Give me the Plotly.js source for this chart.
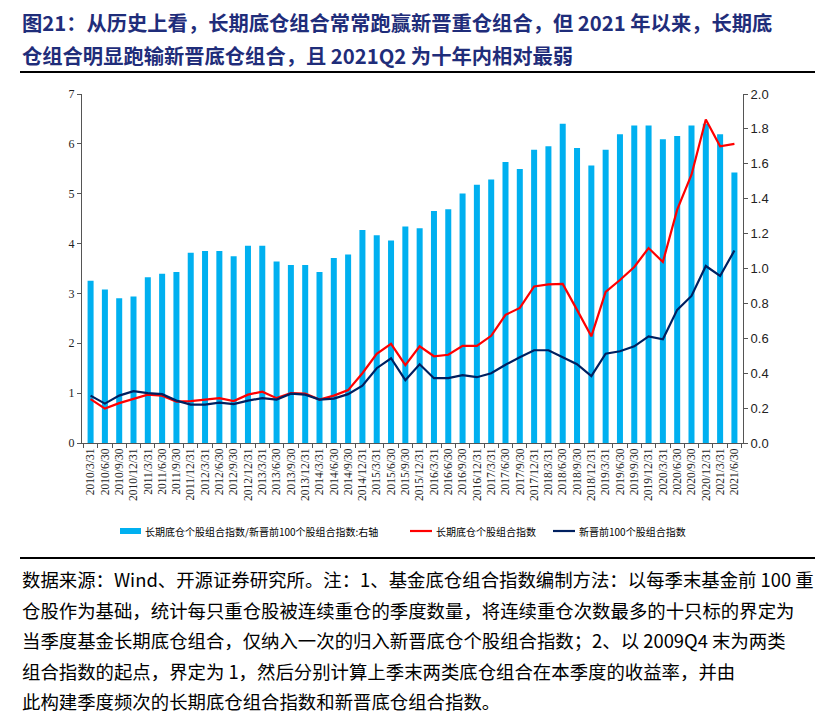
<!DOCTYPE html>
<html>
<head>
<meta charset="utf-8">
<script src="https://cdn.plot.ly/plotly-3.0.1.min.js"></script>
<style>
html,body{margin:0;padding:0;background:#fff;}
#chart{width:835px;height:724px;}
</style>
</head>
<body>
<div id="chart"></div>
<script>
// ---- data ----
const quarters = [
"2010/3/31","2010/6/30","2010/9/30","2010/12/31",
"2011/3/31","2011/6/30","2011/9/30","2011/12/31",
"2012/3/31","2012/6/30","2012/9/30","2012/12/31",
"2013/3/31","2013/6/30","2013/9/30","2013/12/31",
"2014/3/31","2014/6/30","2014/9/30","2014/12/31",
"2015/3/31","2015/6/30","2015/9/30","2015/12/31",
"2016/3/31","2016/6/30","2016/9/30","2016/12/31",
"2017/3/31","2017/6/30","2017/9/30","2017/12/31",
"2018/3/31","2018/6/30","2018/9/30","2018/12/31",
"2019/3/31","2019/6/30","2019/9/30","2019/12/31",
"2020/3/31","2020/6/30","2020/9/30","2020/12/31",
"2021/3/31","2021/6/30"];

// 长期底仓个股组合指数/新晋前100个股组合指数 (右轴)
const ratioValues = [
0.93,0.88,0.83,0.84,0.95,0.97,0.98,1.09,
1.10,1.10,1.07,1.13,1.13,1.04,1.02,1.02,
0.98,1.06,1.08,1.22,1.19,1.16,1.24,1.23,
1.33,1.34,1.43,1.48,1.51,1.61,1.57,1.68,
1.70,1.83,1.69,1.59,1.68,1.77,1.82,1.82,
1.74,1.76,1.82,1.83,1.77,1.55];

// 长期底仓个股组合指数 (左轴)
const longTermIndex = [
0.88,0.69,0.80,0.89,0.97,0.95,0.83,0.84,
0.87,0.90,0.84,0.97,1.03,0.90,1.00,0.99,
0.87,0.95,1.06,1.40,1.79,1.99,1.56,1.94,
1.74,1.77,1.95,1.95,2.15,2.57,2.71,3.14,
3.18,3.19,2.67,2.14,3.03,3.27,3.53,3.91,
3.63,4.68,5.38,6.49,5.95,6.00];

// 新晋前100个股组合指数 (左轴)
const newTop100Index = [
0.95,0.79,0.95,1.04,1.00,0.98,0.85,0.77,
0.77,0.81,0.78,0.85,0.90,0.87,0.99,0.97,
0.87,0.89,0.98,1.15,1.50,1.70,1.26,1.58,
1.30,1.30,1.36,1.32,1.40,1.57,1.72,1.86,
1.86,1.72,1.58,1.34,1.79,1.84,1.94,2.14,
2.08,2.67,2.95,3.55,3.35,3.86];

const seriesNames = [
"长期底仓个股组合指数/新晋前100个股组合指数:右轴",
"长期底仓个股组合指数",
"新晋前100个股组合指数"];

const titleLines = [
"图21：从历史上看，长期底仓组合常常跑赢新晋重仓组合，但 2021 年以来，长期底",
"仓组合明显跑输新晋底仓组合，且 2021Q2 为十年内相对最弱"];

const noteLines = [
"数据来源：Wind、开源证券研究所。注：1、基金底仓组合指数编制方法：以每季末基金前 100 重",
"仓股作为基础，统计每只重仓股被连续重仓的季度数量，将连续重仓次数最多的十只标的界定为",
"当季度基金长期底仓组合，仅纳入一次的归入新晋底仓个股组合指数；2、以 2009Q4 末为两类",
"组合指数的起点，界定为 1，然后分别计算上季末两类底仓组合在本季度的收益率，并由",
"此构建季度频次的长期底仓组合指数和新晋底仓组合指数。"];

const seriesColors = ['#00B0F0', '#FF0000', '#002060'];

// ---- layout helpers (pixel -> paper) ----
const M = {l:82, r:92, t:94, b:281};
const W = 835, H = 724;
const PW = W - M.l - M.r, PH = H - M.t - M.b;
const px = x => (x - M.l) / PW;
const py = y => (H - M.b - y) / PH;

const CJK = '"Noto Sans CJK SC", "Noto Sans", sans-serif';
const SERIF = '"Liberation Serif", "DejaVu Serif", serif';

const traces = [
  {type:'bar', x:quarters, y:ratioValues, name:seriesNames[0], yaxis:'y',
   marker:{color:seriesColors[0]}},
  {type:'scatter', mode:'lines', x:quarters, y:longTermIndex, name:seriesNames[1], yaxis:'y2',
   line:{color:seriesColors[1], width:2.2}},
  {type:'scatter', mode:'lines', x:quarters, y:newTop100Index, name:seriesNames[2], yaxis:'y2',
   line:{color:seriesColors[2], width:2.2}}
];

const annotations = [];
titleLines.forEach((t,i)=>{
  annotations.push({text:'<b>'+t+'</b>', xref:'paper', yref:'paper', x:px(20), y:py(22+i*33),
    xanchor:'left', yanchor:'middle', showarrow:false,
    font:{family:CJK, size:20.3, color:'#1F2D7A'}});
});
noteLines.forEach((t,i)=>{
  annotations.push({text:t, xref:'paper', yref:'paper', x:px(20), y:py(579+i*30.5),
    xanchor:'left', yanchor:'middle', showarrow:false,
    font:{family:CJK, size:18.4, color:'#000'}});
});

// legend (drawn manually for exact spacing)
const legendY = 531;
const legendItems = [
  {x0:120, x1:141, tx:143, kind:'rect'},
  {x0:410, x1:432, tx:434, kind:'line'},
  {x0:553, x1:575, tx:577, kind:'line'}
];
const shapes = [
  {type:'line', xref:'paper', yref:'paper', x0:px(20), x1:px(815), y0:py(72), y1:py(72),
   line:{color:'#000', width:2}},
  {type:'line', xref:'paper', yref:'paper', x0:px(20), x1:px(815), y0:py(558), y1:py(558),
   line:{color:'#000', width:2}}
];
legendItems.forEach((it,i)=>{
  if (it.kind === 'rect') {
    shapes.push({type:'rect', xref:'paper', yref:'paper', x0:px(it.x0), x1:px(it.x1),
      y0:py(legendY-3), y1:py(legendY+3), fillcolor:seriesColors[i], line:{width:0}});
  } else {
    shapes.push({type:'line', xref:'paper', yref:'paper', x0:px(it.x0), x1:px(it.x1),
      y0:py(legendY), y1:py(legendY), line:{color:seriesColors[i], width:2.2}});
  }
  annotations.push({text:seriesNames[i], xref:'paper', yref:'paper', x:px(it.tx), y:py(legendY),
    xanchor:'left', yanchor:'middle', showarrow:false,
    font:{family:CJK, size:10, color:'#000'}});
});

const layout = {
  width:W, height:H,
  margin:M,
  paper_bgcolor:'#fff', plot_bgcolor:'#fff',
  showlegend:false,
  bargap:0.58,
  xaxis:{type:'category', tickangle:-90, showline:true, linecolor:'#555', linewidth:1,
    ticks:'outside', tickson:'boundaries', ticklen:4, tickcolor:'#555',
    tickfont:{family:SERIF, size:11.5, color:'#222'}, showgrid:false, zeroline:false,
    range:[-0.6, quarters.length-0.4]},
  yaxis:{side:'right', range:[0,2], dtick:0.2, tickformat:'.1f', showline:true,
    linecolor:'#555', linewidth:1, ticks:'outside', ticklen:4, tickcolor:'#555',
    showgrid:false, zeroline:false,
    tickfont:{family:'"Liberation Sans", Arial, sans-serif', size:13, color:'#222'}},
  yaxis2:{side:'left', overlaying:'y', range:[0,7], dtick:1, showline:true,
    linecolor:'#555', linewidth:1, ticks:'outside', ticklen:4, tickcolor:'#555',
    showgrid:false, zeroline:false,
    tickfont:{family:SERIF, size:12, color:'#222'}},
  shapes:shapes,
  annotations:annotations
};

Plotly.newPlot('chart', traces, layout, {displayModeBar:false, staticPlot:true});
</script>
</body>
</html>
